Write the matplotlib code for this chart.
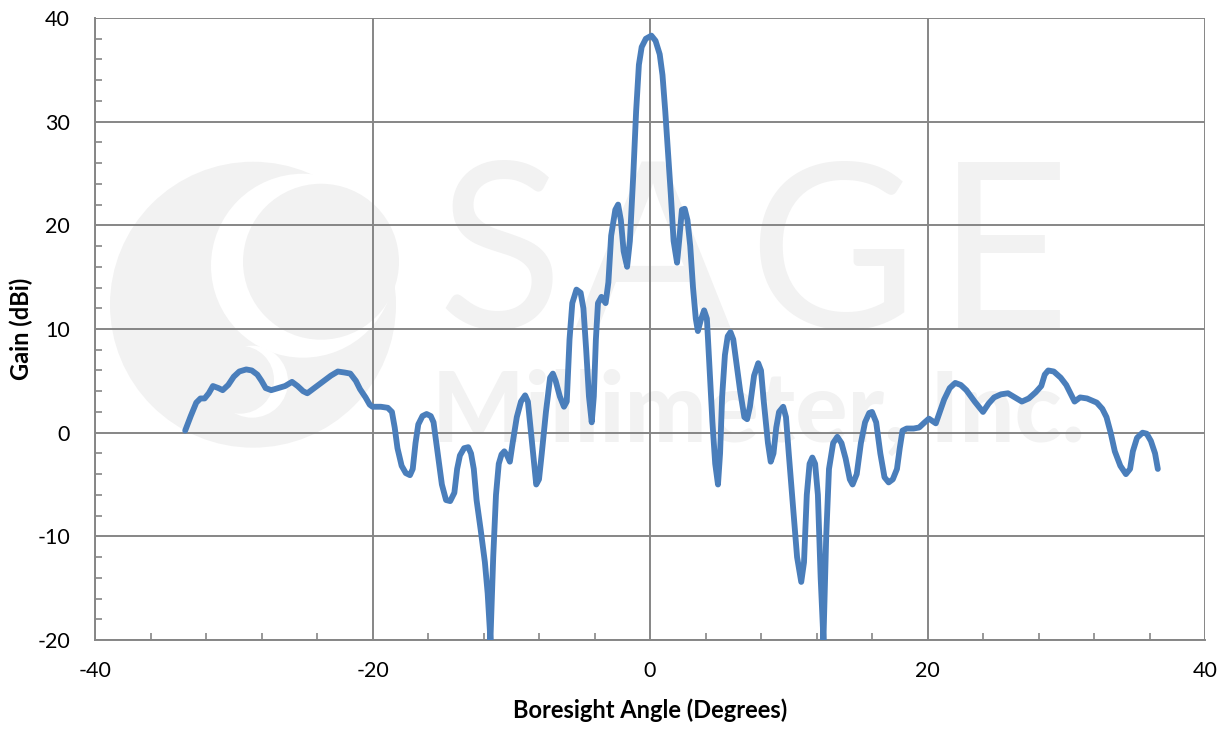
import matplotlib
matplotlib.use("Agg")
import matplotlib.pyplot as plt
from matplotlib.patches import Ellipse
from matplotlib.ticker import MultipleLocator

angle = [
    -33.5, -33.1, -32.7, -32.4, -32.1, -31.8, -31.5, -31.1, -30.8, -30.4,
    -30.0, -29.6, -29.1, -28.7, -28.3, -28.0, -27.7, -27.3, -26.8, -26.3,
    -25.8, -25.4, -25.0, -24.7, -24.2, -23.6, -23.0, -22.5, -22.0, -21.6,
    -21.2, -20.9, -20.5, -20.2, -20.0, -19.4, -18.9, -18.6, -18.4, -18.2,
    -17.9, -17.6, -17.3, -17.1, -16.9, -16.7, -16.4, -16.1, -15.8, -15.6,
    -15.3, -15.0, -14.7, -14.4, -14.1, -13.9, -13.7, -13.4, -13.1, -12.9,
    -12.7, -12.5, -12.2, -11.9, -11.7, -11.5, -11.3, -11.1, -10.9, -10.7,
    -10.5, -10.3, -10.1, -9.9, -9.6, -9.3, -9.0, -8.8, -8.5, -8.2,
    -8.0, -7.8, -7.5, -7.2, -7.0, -6.8, -6.5, -6.2, -6.0, -5.8,
    -5.6, -5.3, -5.0, -4.8, -4.6, -4.4, -4.2, -4.05, -3.9, -3.75,
    -3.5, -3.2, -3.0, -2.8, -2.5, -2.3, -2.1, -1.9, -1.65, -1.45,
    -1.2, -1.0, -0.8, -0.6, -0.3, 0.1, 0.4, 0.7, 0.9, 1.1,
    1.3, 1.5, 1.7, 1.95, 2.1, 2.3, 2.5, 2.7, 2.9, 3.1,
    3.3, 3.45, 3.65, 3.9, 4.1, 4.3, 4.5, 4.7, 4.9, 5.05,
    5.2, 5.4, 5.6, 5.8, 6.0, 6.2, 6.5, 6.8, 7.0, 7.2,
    7.5, 7.8, 8.0, 8.2, 8.5, 8.7, 8.9, 9.1, 9.3, 9.6,
    9.8, 10.0, 10.3, 10.6, 10.9, 11.1, 11.3, 11.5, 11.7, 11.9,
    12.1, 12.3, 12.5, 12.7, 12.9, 13.2, 13.5, 13.8, 14.1, 14.4,
    14.6, 14.9, 15.2, 15.5, 15.8, 16.0, 16.3, 16.6, 16.9, 17.2,
    17.5, 17.8, 18.0, 18.2, 18.5, 19.0, 19.4, 19.8, 20.1, 20.6,
    21.2, 21.6, 22.0, 22.4, 22.8, 23.4, 24.0, 24.4, 24.8, 25.3,
    25.8, 26.3, 26.8, 27.3, 27.8, 28.2, 28.45, 28.7, 29.1, 29.6,
    30.0, 30.3, 30.6, 31.0, 31.5, 32.2, 32.6, 32.9, 33.2, 33.5,
    33.9, 34.3, 34.6, 34.8, 35.1, 35.5, 35.8, 36.1, 36.4, 36.6,
]
gain = [
    0.2, 1.6, 2.9, 3.3, 3.3, 3.8, 4.5, 4.3, 4.1, 4.6,
    5.4, 5.9, 6.1, 6.0, 5.6, 5.0, 4.3, 4.1, 4.3, 4.5,
    4.9, 4.5, 4.0, 3.8, 4.3, 4.9, 5.5, 5.9, 5.8, 5.7,
    5.0, 4.2, 3.4, 2.7, 2.5, 2.5, 2.4, 2.0, 0.5, -1.5,
    -3.2, -3.9, -4.1, -3.5, -1.0, 0.8, 1.6, 1.8, 1.6, 1.0,
    -2.0, -5.0, -6.5, -6.6, -5.8, -3.5, -2.2, -1.5, -1.4, -2.0,
    -3.5, -6.5, -9.4, -12.5, -15.5, -20.0, -12.0, -6.0, -3.0, -2.1,
    -1.8, -2.2, -2.8, -1.0, 1.5, 3.0, 3.6, 3.0, -1.0, -5.0,
    -4.5, -2.0, 2.0, 5.3, 5.7, 5.0, 3.5, 2.5, 3.0, 9.0,
    12.5, 13.8, 13.5, 12.0, 8.0, 3.5, 1.0, 3.5, 9.0, 12.5,
    13.1, 12.5, 14.5, 19.0, 21.5, 22.0, 20.5, 17.5, 16.0, 18.5,
    25.0, 31.0, 35.5, 37.2, 38.0, 38.3, 37.8, 36.5, 34.5, 31.0,
    27.0, 23.0, 18.5, 16.4, 18.5, 21.5, 21.6, 20.5, 18.0, 14.0,
    11.0, 9.8, 10.8, 11.8, 11.0, 6.0, 1.0, -3.0, -5.0, -2.0,
    3.5, 7.5, 9.3, 9.7, 9.0, 7.0, 4.0, 1.5, 1.3, 2.5,
    5.5, 6.7, 6.0, 3.0, -1.0, -2.8, -2.0, 0.5, 2.0, 2.5,
    1.5, -2.0, -7.0, -12.0, -14.4, -12.5, -6.0, -3.0, -2.4, -3.0,
    -6.0, -14.0, -20.0, -10.0, -3.5, -1.0, -0.4, -1.0, -2.5, -4.5,
    -5.0, -4.0, -1.0, 1.0, 1.9, 2.0, 1.0, -2.0, -4.3, -4.8,
    -4.5, -3.5, -1.5, 0.2, 0.4, 0.4, 0.5, 1.0, 1.35, 0.9,
    3.2, 4.3, 4.8, 4.6, 4.1, 3.0, 2.0, 2.8, 3.4, 3.7,
    3.8, 3.4, 3.0, 3.3, 3.9, 4.5, 5.6, 6.0, 5.9, 5.3,
    4.6, 3.8, 3.0, 3.4, 3.3, 2.9, 2.3, 1.5, 0.0, -1.8,
    -3.2, -4.0, -3.5, -1.8, -0.5, 0.0, -0.1, -0.8, -2.0, -3.5,
]

x_ticks = [-40, -20, 0, 20, 40]
y_ticks = [-20, -10, 0, 10, 20, 30, 40]

grid_col = '#868686'
line_col = '#4A7EBB'
wm_col = '#F2F2F2'

plt.rcParams['font.family'] = ['Lato', 'DejaVu Sans']
plt.rcParams['axes.unicode_minus'] = False

fig = plt.figure(figsize=(12.24, 7.30), dpi=100)
ax = fig.add_axes([95/1224, 1 - 640/730, 1110/1224, 622/730])
ax.set_xlim(-40, 40)
ax.set_ylim(-20, 40)


def px(x, y):
    # pixel position in the 1224x730 image -> data coords (watermark only)
    return (x - 650) / 13.875, (433 - y) / 10.37


def blob(x, y, r, col, z):
    ax.add_patch(Ellipse(px(x, y), 2 * r / 13.875, 2 * r / 10.37,
                         color=col, lw=0, zorder=z))


# faint company logo + name behind the grid
blob(253, 305, 143, wm_col, 0)
blob(303, 266, 92, 'white', 0.1)
blob(321, 262, 78, wm_col, 0.2)
blob(252, 382, 36, 'white', 0.1)
blob(240, 380, 34, wm_col, 0.2)
for ch, cx in zip('SAGE', [500, 652, 832, 1003]):
    ax.text(*px(cx, 328), ch, color=wm_col, fontsize=166,
            ha='center', va='baseline', zorder=0)
ax.text(*px(432, 442), 'Millimeter, Inc.', color=wm_col,
        fontsize=70, fontweight='black', ha='left', va='baseline', zorder=0)

ax.plot(angle, gain, color=line_col, lw=4.2, solid_joinstyle='round',
        solid_capstyle='round', zorder=3)

ax.set_xticks(x_ticks)
ax.set_yticks(y_ticks)
ax.xaxis.set_minor_locator(MultipleLocator(4))
ax.yaxis.set_minor_locator(MultipleLocator(2))
ax.grid(True, which='major', color=grid_col, lw=1.4)
ax.set_axisbelow(True)
ax.tick_params(which='major', length=0, labelsize=15.5, colors='black')
ax.tick_params(axis='y', which='major', pad=18)
ax.tick_params(axis='x', which='major', pad=15)
ax.tick_params(which='minor', direction='in', length=5, width=1.2, color=grid_col)

for side in ['top', 'right']:
    ax.spines[side].set_visible(False)
for side in ['left', 'bottom']:
    ax.spines[side].set_color(grid_col)
    ax.spines[side].set_linewidth(1.4)

ax.set_xlabel('Boresight Angle (Degrees)', fontsize=17, fontweight='bold', labelpad=13)
ax.set_ylabel('Gain (dBi)', fontsize=17, fontweight='bold', labelpad=3)

fig.savefig('out.png', dpi=100)
